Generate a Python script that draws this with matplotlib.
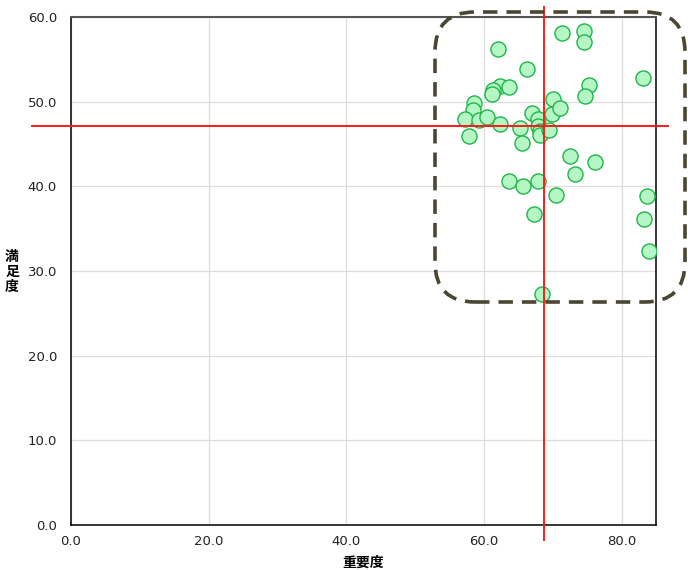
import matplotlib

matplotlib.use("Agg")
import matplotlib.pyplot as plt
from matplotlib.patches import FancyBboxPatch

# importance (x) and satisfaction (y) per item
importance = [
    71.4, 74.6, 74.5, 62.1, 83.1, 66.3, 62.4, 63.6, 61.3, 61.2,
    75.2, 74.7, 58.6, 58.4, 57.2, 59.3, 60.4, 62.3, 57.9, 67.0,
    67.8, 70.1, 69.9, 71.1, 65.3, 67.8, 68.1, 68.1, 69.5, 65.6,
    72.5, 76.2, 73.2, 63.6, 65.7, 67.8, 70.5, 67.3, 83.7, 83.3,
    84.0, 68.4,
]
satisfaction = [
    58.1, 58.3, 57.0, 56.2, 52.8, 53.9, 51.9, 51.7, 51.4, 50.9,
    52.0, 50.7, 49.8, 49.0, 48.0, 47.8, 48.2, 47.4, 46.0, 48.7,
    48.0, 50.3, 48.6, 49.2, 46.9, 47.1, 46.5, 46.1, 46.7, 45.1,
    43.6, 42.9, 41.5, 40.6, 40.0, 40.6, 39.0, 36.7, 38.9, 36.2,
    32.4, 27.3,
]
mean_importance = 68.7
mean_satisfaction = 47.1

x_ticks = [0, 20, 40, 60, 80]
y_ticks = [0, 10, 20, 30, 40, 50, 60]

plt.rcParams["font.family"] = ["Noto Sans CJK JP", "DejaVu Sans"]

fig = plt.figure(figsize=(6.88, 5.70), dpi=100)
ax = fig.add_axes([71 / 688, 1 - 525 / 570, 585 / 688, 508 / 570])

ax.scatter(importance, satisfaction, s=118, facecolor="#b5f7c4",
           edgecolor="#1fb54a", linewidth=1.0, zorder=3)

ax.axvline(mean_importance, ymin=-0.03, ymax=1.02, color="#ff1a1a",
           lw=1.4, clip_on=False, zorder=4)
ax.axhline(mean_satisfaction, xmin=-0.067, xmax=1.02, color="#ff1a1a",
           lw=1.4, clip_on=False, zorder=4)

ax.set_xlim(0, 85)
ax.set_ylim(0, 60)
ax.set_xticks(x_ticks, [f"{v:.1f}" for v in x_ticks])
ax.set_yticks(y_ticks, [f"{v:.1f}" for v in y_ticks])
for lab in ax.get_xticklabels() + ax.get_yticklabels():
    lab.set_fontfamily("DejaVu Sans")
ax.tick_params(length=0, labelsize=9.5, colors="#222222")
ax.tick_params(axis="x", pad=7)
ax.tick_params(axis="y", pad=10)
ax.grid(color="#dddddd", linewidth=0.9)
ax.set_axisbelow(True)
for side in ("left", "bottom", "right"):
    ax.spines[side].set_color("black")
    ax.spines[side].set_linewidth(1.1)
ax.spines["top"].set_color("#555555")
ax.spines["top"].set_linewidth(1.5)

fig.text(363 / 688, 1 - 563 / 570, "重要度", fontsize=10, fontweight="bold",
         ha="center", va="center")
fig.text(12 / 688, 1 - 272 / 570, "満\n足\n度", fontsize=10, fontweight="bold",
         ha="center", va="center", linespacing=1.05)

# dashed highlight around the cluster, in figure pixels
box = FancyBboxPatch((435, 570 - 302), 250, 290,
                     boxstyle="round,pad=0,rounding_size=40",
                     transform=None, fill=False, edgecolor="#4b4632",
                     linewidth=2.6, linestyle=(0, (4, 2.5)), zorder=10)
fig.patches.append(box)

fig.savefig("out.png", dpi=100)
